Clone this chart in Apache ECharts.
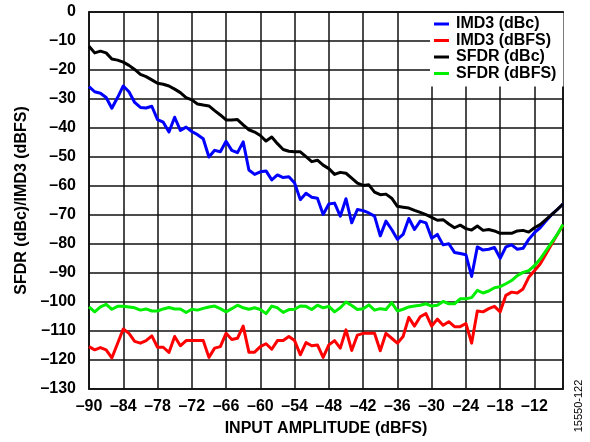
<!DOCTYPE html>
<html>
<head>
<meta charset="utf-8">
<script src="https://cdn.jsdelivr.net/npm/echarts@6/dist/echarts.min.js"></script>
<style>
html,body{margin:0;padding:0;background:#fff;}
#chart{width:590px;height:442px;}
</style>
</head>
<body>
<div id="chart"></div>
<script>
var amplitude = [-90,-89,-88,-87,-86,-85,-84,-83,-82,-81,-80,-79,-78,-77,-76,-75,-74,-73,-72,-71,-70,-69,-68,-67,-66,-65,-64,-63,-62,-61,-60,-59,-58,-57,-56,-55,-54,-53,-52,-51,-50,-49,-48,-47,-46,-45,-44,-43,-42,-41,-40,-39,-38,-37,-36,-35,-34,-33,-32,-31,-30,-29,-28,-27,-26,-25,-24,-23,-22,-21,-20,-19,-18,-17,-16,-15,-14,-13,-12,-11,-10,-9,-8,-7];

var imd3dBc = [-25.7,-27.5,-28.0,-29.5,-33.2,-29.5,-25.5,-27.5,-31.2,-32.9,-33.1,-32.5,-37.1,-38.0,-41.4,-36.3,-40.8,-39.7,-41.2,-42.3,-43.7,-50.0,-47.7,-48.2,-44.6,-47.7,-48.5,-44.8,-54.5,-56.0,-55.1,-54.8,-57.9,-56.2,-57.1,-56.8,-59.0,-64.7,-62.5,-63.9,-64.2,-69.8,-66.2,-65.9,-70.4,-64.4,-72.7,-68.1,-68.5,-69.3,-70.4,-77.2,-72.1,-75.0,-78.4,-76.7,-71.2,-75.0,-72.1,-72.7,-78.0,-76.7,-80.3,-79.9,-82.9,-83.3,-83.7,-91.2,-81.0,-82.1,-81.8,-81.2,-84.9,-81.0,-80.3,-81.8,-81.5,-78.4,-76.1,-74.4,-72.1,-69.9,-68.1,-66.2];

var imd3dBFS = [-115.4,-116.5,-115.7,-116.5,-119.3,-114.3,-109.3,-110.8,-113.6,-114.2,-113.3,-111.7,-115.6,-115.6,-117.4,-111.9,-115.1,-113.3,-113.3,-113.3,-113.3,-119.1,-115.9,-115.4,-110.8,-112.9,-112.5,-108.3,-117.3,-117.3,-115.4,-114.4,-116.3,-113.3,-113.3,-111.9,-113.3,-118.2,-114.0,-115.1,-114.8,-119.1,-114.8,-113.3,-115.9,-109.6,-116.7,-111.4,-110.8,-110.8,-110.8,-116.8,-110.8,-112.5,-114.2,-111.9,-105.3,-108.3,-105.1,-104.0,-108.3,-105.9,-108.0,-106.8,-108.5,-108.5,-107.4,-114.2,-103.1,-103.4,-102.3,-101.5,-103.4,-97.7,-96.6,-96.9,-95.5,-91.5,-89.2,-86.9,-83.5,-80.1,-76.7,-73.5];

var sfdrdBc = [-11.8,-14.1,-13.5,-14.1,-16.2,-16.6,-17.3,-18.4,-19.8,-21.5,-22.3,-23.4,-24.6,-24.9,-25.5,-26.6,-27.8,-29.5,-30.3,-31.7,-32.1,-32.4,-34.0,-35.5,-37.2,-37.2,-37.1,-38.9,-40.6,-41.4,-42.6,-44.5,-43.1,-45.4,-47.4,-48.0,-48.2,-48.2,-49.9,-51.6,-51.1,-52.8,-54.0,-56.0,-55.3,-55.6,-57.3,-59.0,-59.8,-59.6,-62.1,-63.0,-62.8,-64.2,-67.0,-67.3,-67.6,-68.4,-69.1,-69.9,-70.8,-71.8,-71.6,-73.1,-74.4,-73.5,-74.7,-75.2,-73.8,-75.3,-75.0,-75.5,-76.3,-76.3,-76.3,-75.5,-75.3,-75.9,-74.4,-73.3,-71.6,-69.9,-68.1,-66.2];

var sfdrdBFS = [-101.7,-103.4,-101.7,-100.8,-102.5,-101.5,-101.5,-101.7,-102.0,-102.8,-102.4,-103.1,-103.1,-102.4,-101.9,-102.4,-102.4,-103.6,-102.5,-102.8,-102.2,-101.7,-101.4,-102.3,-103.4,-102.3,-101.1,-102.0,-102.5,-102.0,-102.6,-104.0,-101.4,-102.0,-103.6,-102.6,-102.5,-101.4,-101.5,-102.6,-101.1,-102.0,-101.5,-103.4,-102.0,-100.0,-101.2,-102.6,-102.3,-101.0,-102.8,-102.3,-102.6,-100.2,-103.1,-102.5,-101.7,-101.4,-101.1,-100.6,-101.4,-101.1,-99.8,-100.6,-100.6,-98.9,-98.9,-98.5,-96.0,-96.9,-96.2,-95.1,-94.7,-93.7,-92.6,-90.9,-89.8,-89.2,-87.5,-85.2,-82.4,-79.5,-76.7,-73.3];

var seriesNames = ['IMD3 (dBc)','IMD3 (dBFS)','SFDR (dBc)','SFDR (dBFS)'];
var seriesColors = ['#0000ff','#ff0000','#000000','#00ee00'];
var seriesValues = [imd3dBc, imd3dBFS, sfdrdBc, sfdrdBFS];

var xTicks = [-90,-84,-78,-72,-66,-60,-54,-48,-42,-36,-30,-24,-18,-12];
var yTicks = [0,-10,-20,-30,-40,-50,-60,-70,-80,-90,-100,-110,-120,-130];

var FONT = 'Liberation Sans, Arial, sans-serif';
function dash(v){ return v < 0 ? '\u2013' + Math.abs(v) : String(v); }

var chart = echarts.init(document.getElementById('chart'));
var series = seriesNames.map(function(name, i){
  return {
    name: name,
    type: 'line',
    data: amplitude.map(function(x, j){ return [x, seriesValues[i][j]]; }),
    showSymbol: false,
    symbol: 'none',
    lineStyle: {color: seriesColors[i], width: 3, join: 'round'},
    itemStyle: {color: seriesColors[i]},
    z: 3 + i,
    animation: false
  };
});

chart.setOption({
  animation: false,
  backgroundColor: '#fff',
  grid: {left: 89, top: 12, width: 474, height: 381, show: true, borderColor: '#333', borderWidth: 2, backgroundColor: 'transparent'},
  legend: {
    orient: 'vertical',
    left: 430, top: 13,
    data: seriesNames,
    icon: 'rect',
    itemWidth: 15, itemHeight: 3,
    itemGap: 0.5,
    padding: [3, 7, 5, 4],
    backgroundColor: '#fff',
    textStyle: {fontFamily: FONT, fontWeight: 'bold', fontSize: 16, color: '#000', lineHeight: 16, padding: [0,0,0,2]}
  },
  xAxis: {
    type: 'value', min: -90, max: -7, interval: 6,
    name: 'INPUT AMPLITUDE (dBFS)', nameLocation: 'middle', nameGap: 32,
    nameTextStyle: {fontFamily: FONT, fontWeight: 'bold', fontSize: 16, color: '#000'},
    axisLine: {show: false}, axisTick: {show: false},
    axisLabel: {margin: 10, fontFamily: FONT, fontWeight: 'bold', fontSize: 16, color: '#000',
      formatter: function(v){ return xTicks.indexOf(v) >= 0 ? dash(v) : ''; }},
    splitLine: {show: true, lineStyle: {color: '#111', width: 1.5}}
  },
  yAxis: {
    type: 'value', min: -130, max: 0, interval: 10,
    name: 'SFDR (dBc)/IMD3 (dBFS)', nameLocation: 'middle', nameGap: 58,
    nameTextStyle: {fontFamily: FONT, fontWeight: 'bold', fontSize: 16, color: '#000'},
    axisLine: {show: false}, axisTick: {show: false},
    axisLabel: {margin: 13, fontFamily: FONT, fontWeight: 'bold', fontSize: 16, color: '#000', padding: [4,0,0,0],
      formatter: function(v){ return yTicks.indexOf(v) >= 0 ? dash(v) : ''; }},
    splitLine: {show: true, lineStyle: {color: '#111', width: 1.5}}
  },
  graphic: [{
    type: 'text', x: 579, y: 406, rotation: Math.PI / 2,
    style: {text: '15550-122', fontFamily: FONT, fontSize: 11, fill: '#000', align: 'center', verticalAlign: 'middle'}
  }],
  series: series
});
</script>
</body>
</html>
